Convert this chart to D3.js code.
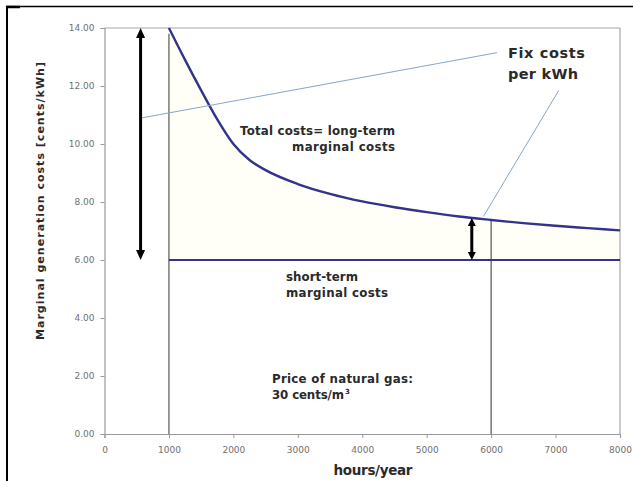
<!DOCTYPE html>
<html><head><meta charset="utf-8">
<script src="https://cdn.jsdelivr.net/npm/d3@7"></script>
<style>
html,body{margin:0;padding:0;background:#fff;}
svg{display:block;font-family:"Liberation Sans",Arial,sans-serif;}
</style></head>
<body>
<svg id="c" width="633" height="481"></svg>
<script>
// ---- data ----
const hours = [1000,1250,1500,1750,2000,2250,2500,3000,3500,4000,4500,5000,5500,6000,6500,7000,7500,8000];
const longTerm = [14.0,12.9,11.85,10.85,10.0,9.45,9.1,8.62,8.28,8.02,7.82,7.65,7.5,7.38,7.27,7.18,7.1,7.02];
const shortTermHours = [1000,8000];
const shortTerm = [6.0,6.0];
const xTicks = [0,1000,2000,3000,4000,5000,6000,7000,8000];
const yTicks = [0,2,4,6,8,10,12,14];
const bigArrow = {h:560, from:14, to:6};
const smallArrow = {h:5700, from:7.45, to:6};
const markerHours = [1000,6000];
const markerTops = [13.8,7.4];
const leader1 = [[580,10.9],[6090,13.15]];
const leader2 = [[7050,11.85],[5880,7.5]];

const svg = d3.select("#c");
const x = d3.scaleLinear().domain([0,8000]).range([104.5,620]);
const y = d3.scaleLinear().domain([0,14]).range([434,28]);

// outer frame
svg.append("line").attr("x1",6).attr("x2",633).attr("y1",6.5).attr("y2",6.5).attr("stroke","#000").attr("stroke-width",1.5);
svg.append("line").attr("x1",7).attr("x2",7).attr("y1",6).attr("y2",481).attr("stroke","#000").attr("stroke-width",2);
svg.append("line").attr("x1",6).attr("x2",20).attr("y1",7).attr("y2",7).attr("stroke","#000").attr("stroke-width",2.5);

// faint fill between curves
const pts = hours.map((h,i)=>[h,longTerm[i]]);
svg.append("path")
  .attr("d", d3.area().x(d=>x(d[0])).y0(y(6)).y1(d=>y(d[1])).curve(d3.curveMonotoneX)(pts))
  .attr("fill","#fffff7");

// plot border (top/right)
svg.append("line").attr("x1",x(0)).attr("x2",x(8000)).attr("y1",y(14)).attr("y2",y(14)).attr("stroke","#a8a8a8").attr("stroke-width",1.2);
svg.append("line").attr("x1",x(8000)).attr("x2",x(8000)).attr("y1",y(14)).attr("y2",y(0)).attr("stroke","#a8a8a8").attr("stroke-width",1.2);

// axes
const ax = svg.append("g").attr("transform",`translate(0,${y(0)})`)
  .call(d3.axisBottom(x).tickValues(xTicks).tickFormat(d3.format("d")).tickSize(4).tickPadding(9));
const ay = svg.append("g").attr("transform",`translate(${x(0)},0)`)
  .call(d3.axisLeft(y).tickValues(yTicks).tickFormat(d3.format(".2f")).tickSize(4).tickPadding(6));
[ax,ay].forEach(g=>{
  g.select(".domain").attr("stroke","#9a9a9a").attr("stroke-width",1.2);
  g.selectAll(".tick line").attr("stroke","#9a9a9a");
  g.selectAll(".tick text").attr("fill","#707070").style("font-size","9px").style("font-family","'DejaVu Sans',sans-serif");
});

// vertical markers
markerHours.forEach((h,i)=>{
  svg.append("line").attr("x1",x(h)).attr("x2",x(h)).attr("y1",y(0)).attr("y2",y(markerTops[i]))
    .attr("stroke","#555").attr("stroke-width",1.2);
});

// short-term line
svg.append("line").attr("x1",x(shortTermHours[0])).attr("x2",x(shortTermHours[1]))
  .attr("y1",y(shortTerm[0])).attr("y2",y(shortTerm[1])).attr("stroke","#33338a").attr("stroke-width",2.2);

// long-term curve
svg.append("path")
  .attr("d", d3.line().x(d=>x(d[0])).y(d=>y(d[1])).curve(d3.curveMonotoneX)(pts))
  .attr("fill","none").attr("stroke","#33338a").attr("stroke-width",2.4);

// leader lines
[leader1,leader2].forEach(L=>{
  svg.append("line").attr("x1",x(L[0][0])).attr("y1",y(L[0][1])).attr("x2",x(L[1][0])).attr("y2",y(L[1][1]))
    .attr("stroke","#8aa4c8").attr("stroke-width",1);
});

// double arrows
function dblArrow(a, w, head, hw){
  const xx = x(a.h), y1 = y(a.from), y2 = y(a.to);
  svg.append("line").attr("x1",xx).attr("x2",xx).attr("y1",y1+head).attr("y2",y2-head)
    .attr("stroke","#000").attr("stroke-width",w);
  svg.append("path").attr("d",`M${xx},${y1} L${xx-hw},${y1+head} L${xx+hw},${y1+head} Z`).attr("fill","#000");
  svg.append("path").attr("d",`M${xx},${y2} L${xx-hw},${y2-head} L${xx+hw},${y2-head} Z`).attr("fill","#000");
}
dblArrow(bigArrow, 3, 10, 4.5);
dblArrow(smallArrow, 3, 8, 4);

// annotations
function txt(xp, yp, s, size, len, anchor){
  const t = svg.append("text").attr("x",xp).attr("y",yp).attr("text-anchor",anchor||"start")
    .attr("fill","#2a2a2a").style("font-weight","bold").style("font-size",size+"px")
    .style("font-family","'DejaVu Sans',sans-serif").text(s);
  if (len) t.attr("textLength",len).attr("lengthAdjust","spacing");
  return t;
}
txt(508,58,"Fix costs",14.5,77);
txt(508,79,"per kWh",14.5,70);
txt(395,135,"Total costs= long-term",11.8,155,"end");
txt(395,151,"marginal costs",11.8,103,"end");
txt(286,281,"short-term",11.8,72);
txt(286,297,"marginal costs",11.8,102);
txt(272,383,"Price of natural gas:",11.8,141);
txt(272,399,"30 cents/m",11.8,72);
svg.append("text").attr("x",345).attr("y",394).attr("fill","#2a2a2a").style("font-weight","bold")
  .style("font-size","7px").style("font-family","'DejaVu Sans',sans-serif").text("3");

// axis titles
svg.append("text").attr("x",373).attr("y",475).attr("text-anchor","middle")
  .attr("fill","#2a2a2a").style("font-weight","bold").style("font-size","13.5px")
  .style("font-family","'DejaVu Sans',sans-serif").attr("textLength",79).attr("lengthAdjust","spacing").text("hours/year");
svg.append("text").attr("transform","translate(44,201) rotate(-90)").attr("text-anchor","middle")
  .attr("fill","#2a2a2a").style("font-weight","bold").style("font-size","11px")
  .style("font-family","'DejaVu Sans',sans-serif").attr("textLength",278).attr("lengthAdjust","spacing")
  .text("Marginal generation costs [cents/kWh]");
</script>
</body></html>
